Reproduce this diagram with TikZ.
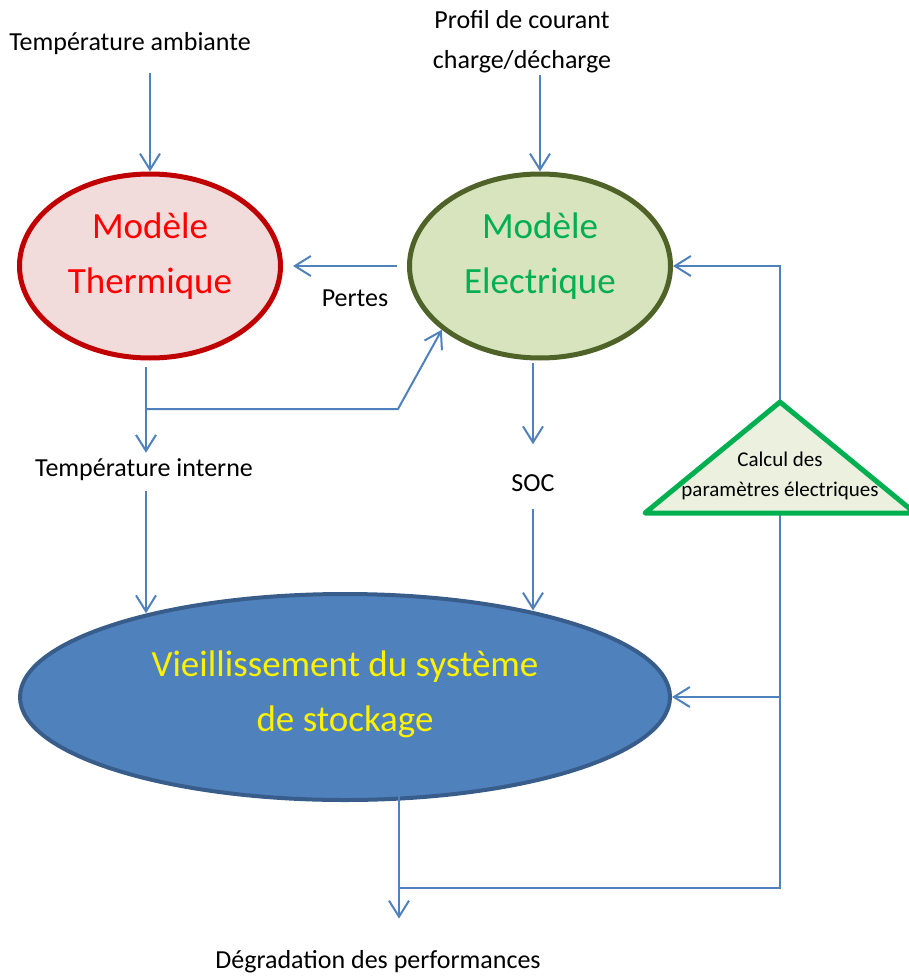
\documentclass[tikz,border=0pt]{standalone}
\usepackage{fontspec}
\setmainfont{Carlito}
\usetikzlibrary{positioning, arrows.meta, shapes.geometric}
\definecolor{flowblue}{HTML}{4F81BD}
\definecolor{thermfill}{HTML}{F2DCDB}
\definecolor{thermdraw}{HTML}{C00000}
\definecolor{elecfill}{HTML}{D7E4BD}
\definecolor{elecdraw}{HTML}{4F6228}
\definecolor{electext}{HTML}{00B050}
\definecolor{vieildraw}{HTML}{385D8A}
\definecolor{trifill}{HTML}{EBF1DE}
\definecolor{tridraw}{HTML}{00B050}

\begin{document}
\begin{tikzpicture}[x=1pt, y=-1pt, >={Straight Barb[length=16pt,width=20pt]},
  flow/.style={draw=flowblue, line width=2pt},
  txt/.style={font=\fontsize{26}{40}\selectfont, align=center, inner sep=0pt},
  model/.style={ellipse, line width=5pt, minimum width=261pt, minimum height=184pt, inner sep=0pt, align=center, text depth=26pt, font=\fontsize{37}{55}\selectfont},
  tri/.style={draw=tridraw, fill=trifill, line width=5pt, line join=round}]
  \useasboundingbox (0,0) rectangle (908,976);
  \node[model, fill=thermfill, draw=thermdraw, text=red] (therm) at (150,266) {Modèle\\Thermique};
  \node[model, fill=elecfill, draw=elecdraw, text=electext] (elec) at (540,266) {Modèle\\Electrique};
  \node[model, fill=flowblue, draw=vieildraw, text=yellow, line width=4pt, minimum width=650pt, minimum height=206pt, text depth=12pt] (vieil) at (345,697) {Vieillissement du système\\de stockage};
  \node[txt] (amb) at (130,44) {Température ambiante};
  \node[txt] (profil) at (522,42) {Profil de courant\\charge/décharge};
  \node[txt] (pertes) at (355,298) {Pertes};
  \node[txt] (tint) at (144,470) {Température interne};
  \node[txt] (soc) at (533,483) {SOC};
  \node[txt] (degr) at (378,962) {Dégradation des performances};
  \coordinate (triA) at (780,402);
  \coordinate (triB) at (780,513);
  \coordinate (split) at (146,409);
  \coordinate (loop) at (780,888);
  \coordinate (dstart) at (399,760);
  \draw[flow, ->, shorten <=18pt] (amb.south -| therm.north) -- (therm.north);
  \draw[flow, ->, shorten <=2pt] (profil.south -| elec.north) -- (elec.north);
  \draw[flow, ->, shorten <=10pt, shorten >=10pt] (elec.west) -- (therm.east);
  \draw[flow, ->, shorten <=6pt, shorten >=6pt] (split |- therm.south) -- (split |- tint.north);
  \draw[flow, ->] (split) -- (398,409) -- (elec.213);
  \draw[flow, ->, shorten <=2pt, shorten >=30pt] (soc.north |- elec.south) -- (soc.north);
  \draw[flow, ->, shorten <=10pt] (split |- tint.south) -- (split |- vieil.157);
  \draw[flow, ->, shorten <=17pt] (soc.south) -- (soc.south |- vieil.25);
  \draw[flow, ->] (triA) |- (elec.east);
  \draw[flow] (triB) -- (loop) -- (dstart |- loop);
  \draw[flow, ->] (triB |- vieil.east) -- (vieil.east);
  \draw[flow, ->, shorten >=32pt] (dstart) -- (dstart |- degr.north);
  \draw[tri] (triA) -- (645,513) -- (915,513) -- cycle;
  \node[txt, font=\fontsize{21}{30}\selectfont] (calc) at (780,476) {Calcul des\\paramètres électriques};
\end{tikzpicture}
\end{document}
